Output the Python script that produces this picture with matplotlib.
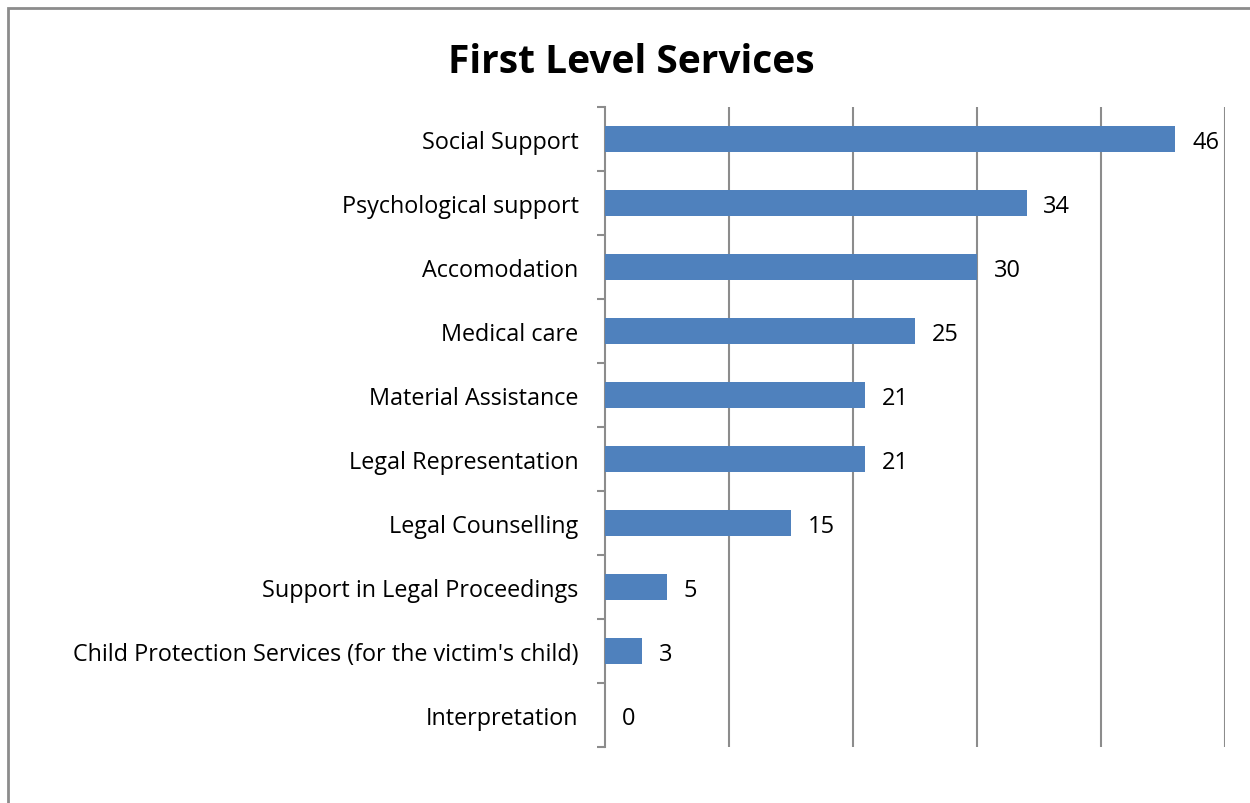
import numpy as np
import matplotlib.pyplot as plt
from matplotlib.patches import Rectangle

# Data
categories = ["Social Support", "Psychological support", "Accomodation", "Medical care",
              "Material Assistance", "Legal Representation", "Legal Counselling",
              "Support in Legal Proceedings",
              "Child Protection Services (for the victim's child)", "Interpretation"]
values = [46, 34, 30, 25, 21, 21, 15, 5, 3, 0]

plt.rcParams['font.family'] = ['Open Sans', 'DejaVu Sans']

fig = plt.figure(figsize=(12.5, 8.04), dpi=100)
ax = fig.add_axes([0.484, 0.0697, 0.496, 0.796])

# outer chart border (clipped at right/bottom like the source)
fig.patches.append(Rectangle((8 / 1250, -0.1), 1.2, 1 - 9 / 804 + 0.1,
                             transform=fig.transFigure, fill=False,
                             edgecolor='#8c8c8c', linewidth=2))

y = np.arange(len(categories))
ax.barh(y, values, height=0.4, color='#4F81BD', zorder=3)
for yi, v in zip(y, values):
    ax.text(v + 1.35, yi, str(v), va='center_baseline', ha='left', fontsize=17)

ax.set_xlim(0, 50)
ax.set_ylim(len(categories) - 0.5, -0.5)
ax.set_xticks([10, 20, 30, 40, 50])
ax.xaxis.grid(True, color='#8c8c8c', linewidth=1.5)
ax.tick_params(axis='x', length=0, labelbottom=False)

ax.set_yticks(y)
ax.set_yticklabels(categories, fontsize=16.8)
ax.set_yticks(np.arange(-0.5, len(categories)), minor=True)
ax.tick_params(axis='y', which='major', length=0, pad=19)
ax.tick_params(axis='y', which='minor', length=6, color='#8c8c8c', width=1.5)

for s in ['top', 'right', 'bottom']:
    ax.spines[s].set_visible(False)
ax.spines['left'].set_color('#8c8c8c')
ax.spines['left'].set_linewidth(1.5)

fig.text(0.505, 0.922, "First Level Services", ha='center', va='center',
         fontsize=28, fontweight='bold')

plt.savefig("out.png", dpi=100)
